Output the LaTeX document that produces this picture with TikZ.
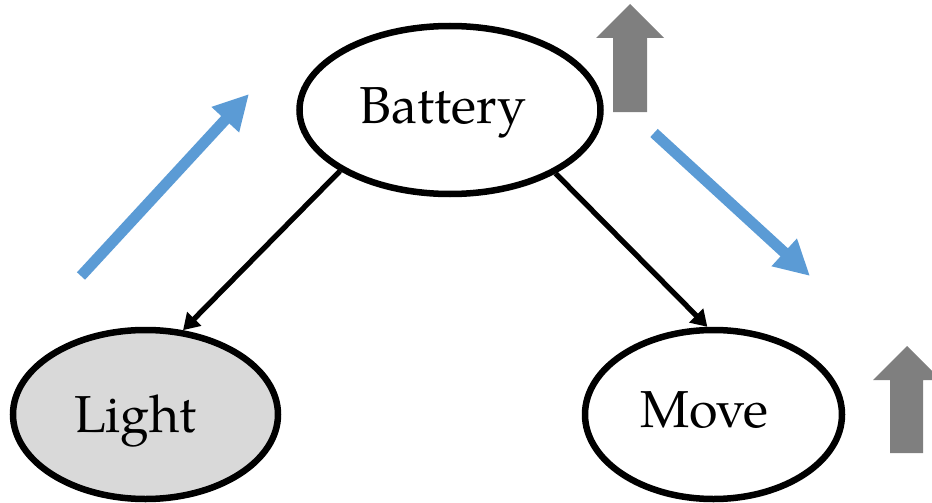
\documentclass[tikz,border=0pt]{standalone}
\usepackage{fontspec}
\setmainfont{texgyrepagella}[Extension=.otf,UprightFont=*-regular,BoldFont=*-bold,ItalicFont=*-italic]
\usetikzlibrary{arrows.meta,shapes.geometric}
\definecolor{blueA}{HTML}{5B9BD5}
\definecolor{grayA}{HTML}{7F7F7F}
\definecolor{fillA}{HTML}{D9D9D9}
\tikzset{
  ell/.style={ellipse,draw=black,line width=6.5pt,inner sep=0pt,
    font=\fontsize{52}{60}\selectfont},
  conn/.style={line width=5.3pt,-{Triangle[length=16pt,width=19pt]}},
  flow/.style={blueA,line width=11pt,-{Triangle[length=35pt,width=35pt]}},
  up/.style={fill=grayA}
}
\begin{document}
\begin{tikzpicture}[x=1pt,y=-1pt]
\clip (0,0) rectangle (932,503);
\node[ell,fill=white,minimum width=301pt,minimum height=168pt,text height=39pt,text depth=13pt] (B) at (450,110) {\hspace*{-14pt}Battery};
\node[ell,fill=fillA,minimum width=265pt,minimum height=169pt,text height=44pt,text depth=9pt] (L) at (145.5,414.5) {\hspace*{-20pt}Light};
\node[ell,fill=white,minimum width=257pt,minimum height=169pt,text height=38pt,text depth=13pt] (M) at (713.5,414.5) {\hspace*{-18pt}Move};
\draw[conn] (B.-151) -- (L.66);
\draw[conn] (B.-31) -- (M.94);
\coordinate (f1s) at (81,276);
\coordinate (f1e) at (249,94);
\coordinate (f2s) at (654,133);
\coordinate (f2e) at (810,276);
\draw[flow] (f1s) -- (f1e);
\draw[flow] (f2s) -- (f2e);
\fill[up] (613,112) -- (613,38) -- (596,38) -- (630,4) -- (664,38) -- (647,38) -- (647,112) -- cycle;
\fill[up] (890,453) -- (890,380) -- (873,380) -- (907,346) -- (941,380) -- (923,380) -- (923,453) -- cycle;
\end{tikzpicture}
\end{document}
